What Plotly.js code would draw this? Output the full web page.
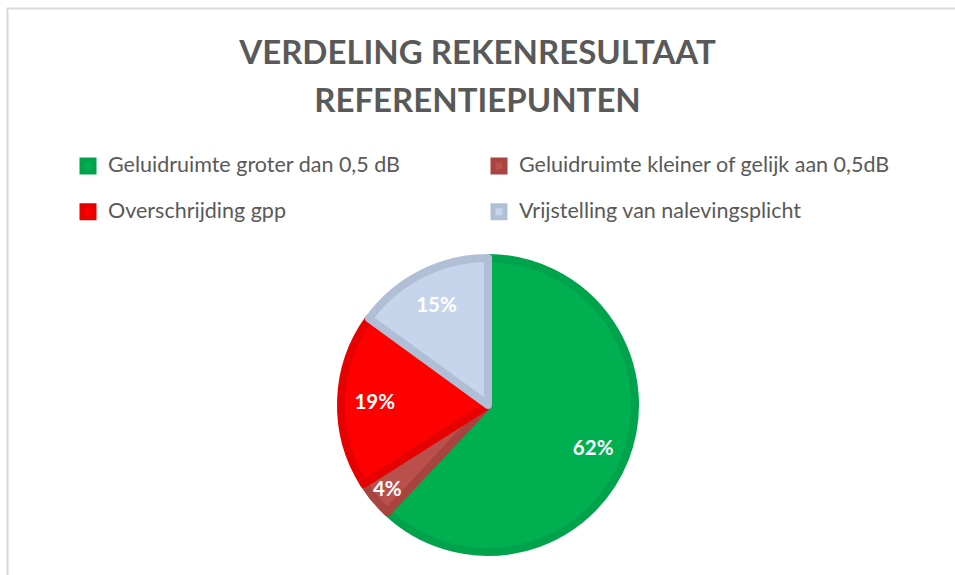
<!DOCTYPE html>
<html>
<head>
<meta charset="utf-8">
<script src="https://cdn.plot.ly/plotly-3.0.1.min.js"></script>
<style>html,body{margin:0;padding:0;background:#fff;}#chart{width:955px;height:575px;}</style>
</head>
<body>
<div id="chart"></div>
<script>
const titleLines = ["VERDELING REKENRESULTAAT", "REFERENTIEPUNTEN"];
const categories = [
  "Geluidruimte groter dan 0,5 dB",
  "Geluidruimte kleiner of gelijk aan 0,5dB",
  "Overschrijding gpp",
  "Vrijstelling van nalevingsplicht"
];
const values = [62, 4, 19, 15];
const fillColors = ["#00B050", "#B9504C", "#FF0000", "#C6D5EC"];
const lineColors = ["#00A24C", "#A8433F", "#E60000", "#B1BFD6"];

const legendLabels = categories.map(c => '<span style="font-size:21.5px;baseline-shift:7px">' + c + '</span>');
const pieDomain = { x: [(488 - 147) / 955, (488 + 147) / 955], y: [(170 - 147) / 575, (170 + 147) / 575] };

const pieTrace = {
  type: 'pie',
  labels: legendLabels,
  values: values,
  sort: false,
  direction: 'clockwise',
  rotation: 0,
  marker: { colors: fillColors, line: { color: lineColors, width: 8 } },
  textinfo: 'none',
  hoverinfo: 'none',
  domain: pieDomain
};

// transparent ring used only to place the percentage labels like Excel does
const labelTrace = {
  type: 'pie',
  labels: legendLabels,
  values: values,
  sort: false,
  direction: 'clockwise',
  rotation: 0,
  hole: 0.54,
  showlegend: false,
  marker: { colors: values.map(() => 'rgba(0,0,0,0)'), line: { width: 0 } },
  texttemplate: '%{percent:.0%}',
  textposition: 'inside',
  insidetextorientation: 'horizontal',
  textfont: { family: 'Lato, sans-serif', size: 20.5, color: '#FFFFFF', weight: 'bold' },
  hoverinfo: 'none',
  domain: pieDomain
};

const layout = {
  width: 955, height: 575,
  margin: { l: 0, r: 0, t: 0, b: 0 },
  paper_bgcolor: '#FFFFFF',
  font: { family: 'Lato, sans-serif', color: '#595959' },
  uniformtext: { mode: 'show', minsize: 20.5 },
  title: {
    text: titleLines.map(t => '<span style="font-size:33px">' + t + '</span>').join('<br>'),
    font: { family: 'Lato, sans-serif', size: 37, color: '#595959', weight: 'bold' },
    x: 0.5, xanchor: 'center', xref: 'paper',
    y: 1 - 64 / 575, yanchor: 'top', yref: 'container'
  },
  showlegend: true,
  legend: {
    orientation: 'h',
    x: 68 / 955, xanchor: 'left',
    y: 1 - 138 / 575, yanchor: 'top',
    entrywidth: 366, entrywidthmode: 'pixels',
    font: { family: 'Lato, sans-serif', size: 33, color: '#595959' },
    bgcolor: 'rgba(0,0,0,0)'
  },
  shapes: [{
    type: 'path', xref: 'paper', yref: 'paper',
    path: 'M ' + (7.5 / 955) + ' -0.1 L ' + (7.5 / 955) + ' ' + (1 - 8.5 / 575) + ' L 1.1 ' + (1 - 8.5 / 575),
    line: { color: '#D9D9D9', width: 2 }
  }]
};

Plotly.newPlot('chart', [pieTrace, labelTrace], layout, { displayModeBar: false, staticPlot: true });
</script>
</body>
</html>
